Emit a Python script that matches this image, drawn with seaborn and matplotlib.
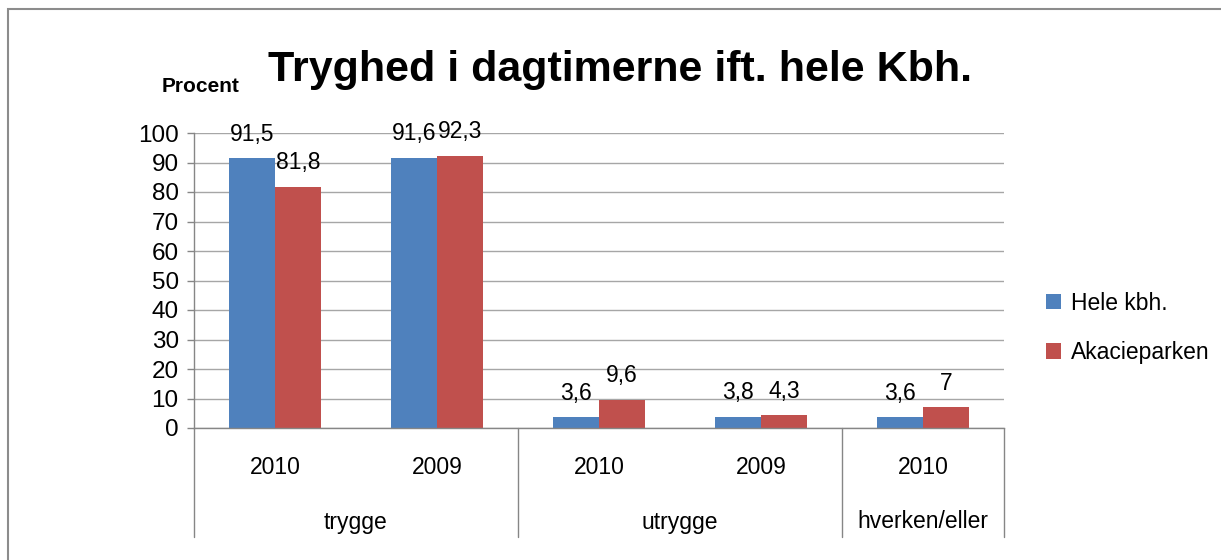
import matplotlib
matplotlib.use("Agg")
import matplotlib.pyplot as plt
import seaborn as sns
import pandas as pd
from matplotlib.lines import Line2D
from matplotlib.patches import Rectangle
import matplotlib.transforms as mtransforms

# ---- data ----
groups = ["trygge", "trygge", "utrygge", "utrygge", "hverken/eller"]
years = ["2010", "2009", "2010", "2009", "2010"]
series = ["Hele kbh.", "Akacieparken"]
hele_kbh = [91.5, 91.6, 3.6, 3.8, 3.6]
akacieparken = [81.8, 92.3, 9.6, 4.3, 7.0]
yticks = [0, 10, 20, 30, 40, 50, 60, 70, 80, 90, 100]
title = "Tryghed i dagtimerne ift. hele Kbh."
ylabel = "Procent"
colors = ["#4F81BD", "#C0504D"]

cats = [f"{g} {y}" for g, y in zip(groups, years)]
df = pd.DataFrame({
    "cat": cats * 2,
    "serie": [series[0]] * len(cats) + [series[1]] * len(cats),
    "value": hele_kbh + akacieparken,
})

sns.set_style("white")
plt.rcParams["font.family"] = ["Liberation Sans", "DejaVu Sans"]
plt.rcParams["text.color"] = "black"
plt.rcParams["xtick.color"] = "black"
plt.rcParams["ytick.color"] = "black"

W, H = 1221, 560
fig = plt.figure(figsize=(W / 100, H / 100), dpi=100)
ax = fig.add_axes([194 / W, (H - 428) / H, (1004 - 194) / W, (428 - 133) / H])

sns.barplot(data=df, x="cat", y="value", hue="serie", order=cats,
            hue_order=series, palette=colors, width=0.568, gap=0,
            saturation=1, ax=ax, legend=True, edgecolor="none", linewidth=0)

ax.set_xlim(-0.5, len(cats) - 0.5)
ax.set_ylim(0, 100)
ax.set_yticks(yticks)
ax.set_yticklabels([str(v) for v in yticks], fontsize=17.5)
ax.set_xticks([])
ax.set_xlabel("")
ax.set_ylabel("")
ax.yaxis.grid(True, color="#A6A6A6", linewidth=1)
ax.set_axisbelow(True)
ax.tick_params(axis="y", length=5, width=1, color="#868686", labelcolor="black", pad=6, left=True)
for s in ["top", "right"]:
    ax.spines[s].set_visible(False)
for s in ["left", "bottom"]:
    ax.spines[s].set_color("#868686")
    ax.spines[s].set_linewidth(1)

# data labels
def fmt(v):
    s = f"{v:.1f}".replace(".", ",")
    return s[:-2] if s.endswith(",0") else s

for cont in ax.containers:
    vals = [b.get_height() for b in cont]
    ax.bar_label(cont, labels=[fmt(v) for v in vals], padding=9, fontsize=16.5, color="black")

# multi-level category axis
trans = mtransforms.blended_transform_factory(ax.transData, ax.transAxes)
for i, y in enumerate(years):
    ax.text(i, -40 / 295, y, transform=trans, ha="center", va="center", fontsize=16.5, color="black")
bounds = [0]
for i in range(1, len(groups)):
    if groups[i] != groups[i - 1]:
        bounds.append(i)
bounds.append(len(groups))
for a, b in zip(bounds[:-1], bounds[1:]):
    ax.text((a + b - 1) / 2, -94 / 295, groups[a], transform=trans,
            ha="center", va="center", fontsize=16.5, color="black")
for bnd in bounds:
    ax.add_line(Line2D([bnd - 0.5, bnd - 0.5], [0, -109 / 295], transform=trans,
                       color="#868686", linewidth=1, clip_on=False))

# legend
handles, labels = ax.get_legend_handles_labels()
leg = ax.legend(handles, labels, loc="center left", bbox_to_anchor=(1046 / W, (H - 328) / H),
                bbox_transform=fig.transFigure, frameon=False, fontsize=16.5,
                handlelength=0.65, handleheight=0.65, handletextpad=0.45, labelspacing=1.15,
                borderaxespad=0, borderpad=0)
for t in leg.get_texts():
    t.set_color("black")

# title and y-label
fig.text(620 / W, (H - 81) / H, title, ha="center", va="baseline", fontsize=31,
         fontweight="bold", color="black")
fig.text(201 / W, (H - 92) / H, ylabel, ha="center", va="baseline", fontsize=15,
         fontweight="bold", color="black")

# outer frame
fig.patches.append(Rectangle((8 / W, -0.1), 1.2, (H - 9) / H + 0.1, transform=fig.transFigure,
                             fill=False, edgecolor="#8C8C8C", linewidth=1.5))

fig.savefig("out.png", dpi=100)
